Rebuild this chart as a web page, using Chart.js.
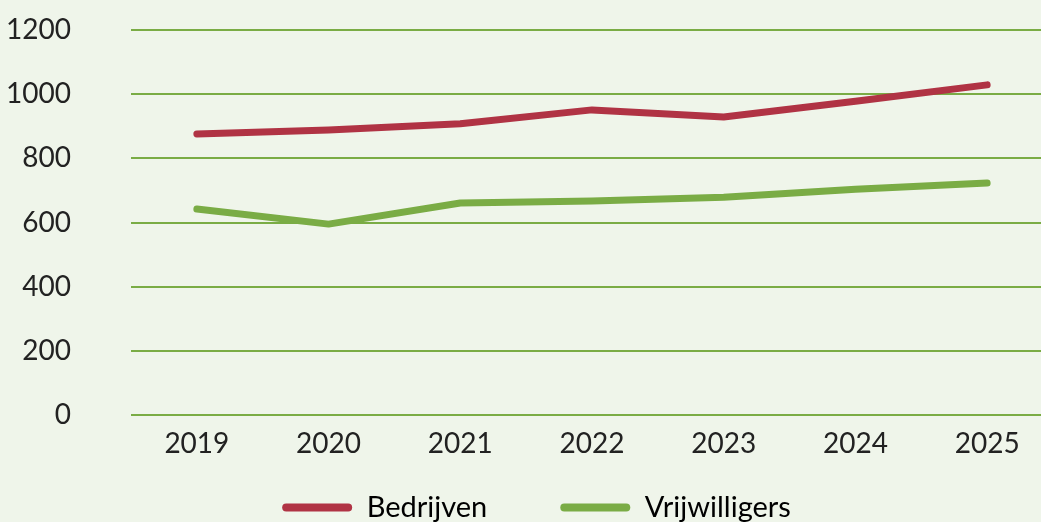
<!DOCTYPE html>
<html>
<head>
<meta charset="utf-8">
<script src="https://cdn.jsdelivr.net/npm/chart.js@4"></script>
<style>
  html, body { margin: 0; padding: 0; background: #eff5ea; overflow: hidden; }
  #wrap { width: 1055px; height: 522px; }
</style>
</head>
<body>
<div id="wrap"><canvas id="lineChart" width="1055" height="522"></canvas></div>
<script>
// data
const years = ['2019', '2020', '2021', '2022', '2023', '2024', '2025'];
const bedrijven = [876, 888, 908, 951, 929, 978, 1029];
const vrijwilligers = [642, 595, 661, 667, 679, 704, 723];
const yTicks = [0, 200, 400, 600, 800, 1000, 1200];

const red = '#b03344';
const green = '#7aac45';
const font = { family: 'Lato', size: 28 };

// legenda: minder hoogte innemen, en iets verschuiven
const legendShift = {
    id: 'legendShift',
    beforeLayout(chart) {
        const legend = chart.legend;
        if (legend && !legend._wrapped) {
            const fit = legend.fit;
            legend.fit = function() {
                fit.call(this);
                this.height = 45;
            };
            legend._wrapped = true;
        }
    },
    afterLayout(chart) {
        const legend = chart.legend;
        legend.left += 10;
        legend.right += 10;
        legend.top = 420;
        legend.bottom = 530;
    }
};

const ctx = document.getElementById('lineChart').getContext('2d');
new Chart(ctx, {
    type: 'line',
    data: {
        labels: years,
        datasets: [
            { label: 'Bedrijven', data: bedrijven, borderColor: red, backgroundColor: red,
              borderWidth: 7, pointRadius: 0, borderCapStyle: 'round', borderJoinStyle: 'round', tension: 0 },
            { label: 'Vrijwilligers', data: vrijwilligers, borderColor: green, backgroundColor: green,
              borderWidth: 7, pointRadius: 0, borderCapStyle: 'round', borderJoinStyle: 'round', tension: 0 }
        ]
    },
    plugins: [legendShift],
    options: {
        responsive: false,
        animation: false,
        layout: { padding: { top: 30, left: 0, right: 2, bottom: 0 } },
        scales: {
            x: {
                offset: true,
                grid: { display: false, drawTicks: false },
                border: { display: false },
                ticks: { color: '#222', font: font, padding: 12 },
                afterFit: function(scale) { scale.height = 62; }
            },
            y: {
                min: 0,
                max: 1200,
                afterBuildTicks: function(scale) {
                    scale.ticks = yTicks.map(v => ({ value: v }));
                },
                grid: { color: green, lineWidth: 2, drawTicks: false },
                border: { display: false },
                ticks: { color: '#222', font: font, padding: 60, callback: v => String(v) },
                afterFit: function(scale) {
                    scale.width = 131;
                    scale.paddingTop = 0;
                    scale.paddingBottom = 0;
                }
            }
        },
        plugins: {
            legend: {
                position: 'bottom',
                labels: {
                    color: '#222',
                    font: { family: 'Lato', size: 29 },
                    boxWidth: 70,
                    boxHeight: 8,
                    padding: 73,
                    generateLabels: function(chart) {
                        return chart.data.datasets.map((ds, i) => ({
                            text: ds.label,
                            fillStyle: ds.borderColor,
                            strokeStyle: ds.borderColor,
                            lineWidth: 0,
                            borderRadius: 4,
                            datasetIndex: i
                        }));
                    }
                }
            },
            tooltip: { enabled: false }
        }
    }
});
</script>
</body>
</html>
